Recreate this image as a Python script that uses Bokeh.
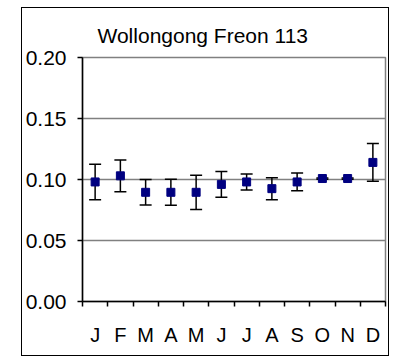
from bokeh.plotting import figure
from bokeh.models import ColumnDataSource, Whisker, TeeHead, FixedTicker, NumeralTickFormatter
from bokeh.embed import file_html
from bokeh.resources import INLINE

months = ["J", "F", "M", "A", "M", "J", "J", "A", "S", "O", "N", "D"]
means = [0.098, 0.103, 0.0895, 0.0895, 0.0895, 0.096, 0.098, 0.0925, 0.098, 0.1008, 0.1008, 0.114]
errors = [0.0145, 0.013, 0.0105, 0.0107, 0.014, 0.0105, 0.0066, 0.009, 0.0073, 0.0005, 0.0005, 0.0155]
y_ticks = [0.0, 0.05, 0.10, 0.15, 0.20]

xs = [i + 0.5 for i in range(len(months))]
src = ColumnDataSource(dict(
    x=xs, y=means,
    upper=[m + e for m, e in zip(means, errors)],
    lower=[m - e for m, e in zip(means, errors)],
))

FONT = "Liberation Sans"

p = figure(width=366, height=347, frame_width=303, frame_height=244,
           x_range=(0, len(months)), y_range=(0, 0.20),
           output_backend="svg", toolbar_location=None,
           min_border_left=60, min_border_right=3, min_border_top=49, min_border_bottom=54,
           title="Wollongong Freon 113")
p.styles = {"border": "1.5px solid black", "margin-left": "21px", "margin-top": "7px"}

p.title.text_font = FONT
p.title.text_font_size = "21px"
p.title.text_font_style = "normal"
p.title.text_color = "black"
p.title.align = "left"
p.title.offset = 15
p.title.standoff = 22

p.outline_line_color = "#808080"
p.outline_line_width = 1.5
p.xgrid.visible = False
p.ygrid.grid_line_color = "#808080"
p.ygrid.grid_line_width = 1.5
p.ygrid.ticker = FixedTicker(ticks=y_ticks)

p.yaxis.ticker = FixedTicker(ticks=y_ticks)
p.yaxis.formatter = NumeralTickFormatter(format="0.00")
p.yaxis.axis_line_color = "black"
p.yaxis.axis_line_width = 1.5
p.yaxis.major_tick_out = 5
p.yaxis.major_tick_in = 0
p.yaxis.major_tick_line_width = 1.5
p.yaxis.minor_tick_line_color = None
p.yaxis.major_label_text_font = FONT
p.yaxis.major_label_text_font_size = "21px"
p.yaxis.major_label_text_color = "black"
p.yaxis.major_label_standoff = 11

p.xaxis.ticker = FixedTicker(ticks=xs, minor_ticks=list(range(len(months) + 1)))
p.xaxis.major_label_overrides = {x: m for x, m in zip(xs, months)}
p.xaxis.axis_line_color = "black"
p.xaxis.axis_line_width = 1.5
p.xaxis.major_tick_out = 0
p.xaxis.major_tick_in = 0
p.xaxis.minor_tick_out = 5
p.xaxis.minor_tick_in = 0
p.xaxis.minor_tick_line_width = 1.5
p.xaxis.minor_tick_line_color = "black"
p.xaxis.major_label_text_font = FONT
p.xaxis.major_label_text_font_size = "20px"
p.xaxis.major_label_text_color = "black"
p.xaxis.major_label_standoff = 17

w = Whisker(source=src, base="x", upper="upper", lower="lower",
            line_color="black", line_width=1.5,
            upper_head=TeeHead(size=12, line_color="black", line_width=1.5),
            lower_head=TeeHead(size=12, line_color="black", line_width=1.5))
p.add_layout(w)

p.scatter("x", "y", source=src, marker="square", size=8,
          fill_color="#000080", line_color="#000080")

open("out.html", "w").write(file_html(p, INLINE))
